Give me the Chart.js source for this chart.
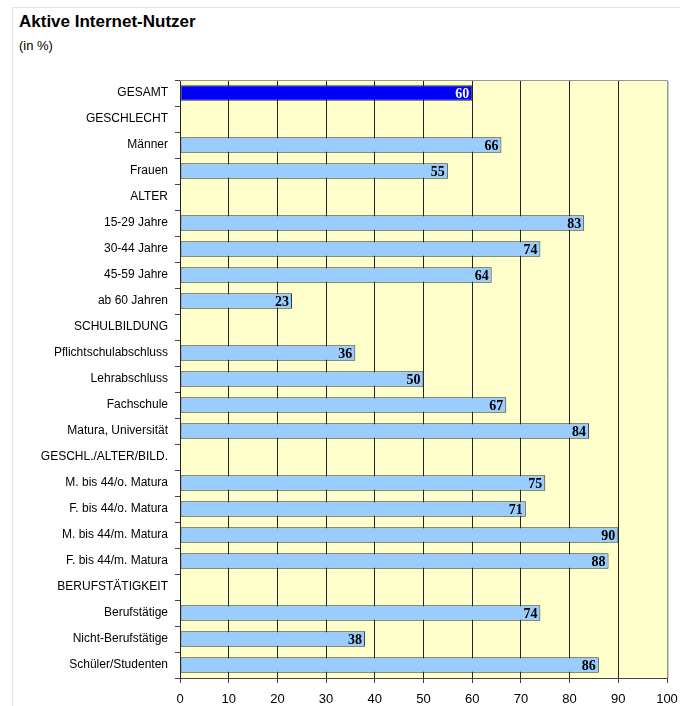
<!DOCTYPE html>
<html><head><meta charset="utf-8">
<script src="https://cdn.jsdelivr.net/npm/chart.js@4/dist/chart.umd.min.js"></script>
<style>
html,body{margin:0;padding:0;background:#fff;}
#wrap{position:relative;width:680px;height:706px;overflow:hidden;}
#frame{position:absolute;left:12px;top:7px;width:700px;height:720px;border-left:1px solid #e4e4e4;border-top:1px solid #e4e4e4;}
#t1{position:absolute;left:19px;top:12px;font:bold 17px "Liberation Sans",Arial,sans-serif;color:#000;}
#t2{position:absolute;left:19px;top:38px;font:13px "Liberation Sans",Arial,sans-serif;color:#000;}
canvas{position:absolute;left:0;top:0;}
</style></head>
<body><div id="wrap"><div id="frame"></div>
<div id="t1">Aktive Internet-Nutzer</div><div id="t2">(in %)</div>
<canvas id="c" width="680" height="706"></canvas></div>
<script>
const categories = ["GESAMT","GESCHLECHT","Männer","Frauen","ALTER","15-29 Jahre","30-44 Jahre","45-59 Jahre","ab 60 Jahren","SCHULBILDUNG","Pflichtschulabschluss","Lehrabschluss","Fachschule","Matura, Universität","GESCHL./ALTER/BILD.","M. bis 44/o. Matura","F. bis 44/o. Matura","M. bis 44/m. Matura","F. bis 44/m. Matura","BERUFSTÄTIGKEIT","Berufstätige","Nicht-Berufstätige","Schüler/Studenten"];
const values = [60,null,66,55,null,83,74,64,23,null,36,50,67,84,null,75,71,90,88,null,74,38,86];
const xTicks = [0,10,20,30,40,50,60,70,80,90,100];

const bgColors = values.map((v,i)=> i===0 ? '#0000FF' : '#99CCFF');
const labelColors = values.map((v,i)=> i===0 ? '#FFFFFF' : '#000000');

const areaPlugin = {
  id:'area',
  beforeDraw(chart){
    const {ctx, chartArea:a} = chart;
    ctx.save(); ctx.fillStyle='#FFFFCC'; ctx.fillRect(a.left,a.top,a.right-a.left,a.bottom-a.top); ctx.restore();
  },
  afterDatasetsDraw(chart){
    const {ctx, chartArea:a} = chart;
    ctx.save();
    ctx.strokeStyle='#999999'; ctx.lineWidth=1;
    ctx.beginPath(); ctx.moveTo(a.left,a.top+0.5); ctx.lineTo(a.right+0.5,a.top+0.5); ctx.lineTo(a.right+0.5,a.bottom); ctx.stroke();
    ctx.strokeStyle='#c8c8c8';
    ctx.beginPath(); ctx.moveTo(a.right+1.5,a.top+1); ctx.lineTo(a.right+1.5,a.bottom); ctx.stroke();
    const meta = chart.getDatasetMeta(0);
    ctx.font='bold 14px "Liberation Serif","Times New Roman",serif';
    ctx.textAlign='right'; ctx.textBaseline='middle';
    meta.data.forEach((bar,i)=>{
      const v = values[i]; if(v==null) return;
      ctx.fillStyle = labelColors[i];
      ctx.fillText(String(v), bar.x-3, bar.y+1);
    });
    ctx.restore();
  }
};

new Chart(document.getElementById('c'), {
  type:'bar',
  data:{labels:categories, datasets:[{data:values, backgroundColor:bgColors, borderColor:'#333333', borderWidth:1, borderSkipped:false, categoryPercentage:1, barPercentage:0.6}]},
  options:{
    indexAxis:'y', responsive:false, animation:false, devicePixelRatio:1,
    layout:{padding:{left:0,right:13,top:80,bottom:0}},
    plugins:{legend:{display:false}, tooltip:{enabled:false}},
    scales:{
      x:{min:0,max:100, afterBuildTicks(s){ s.ticks = xTicks.map(v=>({value:v})); },
        afterFit(s){ s.height = 28; s.paddingRight = 0; s.paddingLeft = 0; },
        grid:{color:(c)=> c.tick && c.tick.value===100 ? 'rgba(0,0,0,0)' : '#222222', lineWidth:1, tickLength:5, tickColor:'#444444', drawTicks:true},
        border:{display:true,color:'#444444',width:1},
        ticks:{color:'#000', font:{family:'"Liberation Sans",Arial,sans-serif', size:13}, padding:9, maxRotation:0, autoSkip:false}
      },
      y:{ afterFit(s){ s.width = 180; s.paddingTop = 0; s.paddingBottom = 0; },
        grid:{offset:true, drawOnChartArea:false, tickLength:5, tickColor:'#444444'},
        border:{display:true,color:'#222222',width:1},
        ticks:{color:'#000', font:{family:'"Liberation Sans",Arial,sans-serif', size:12}, padding:7, autoSkip:false}
      }
    }
  },
  plugins:[areaPlugin]
});
</script></body></html>
